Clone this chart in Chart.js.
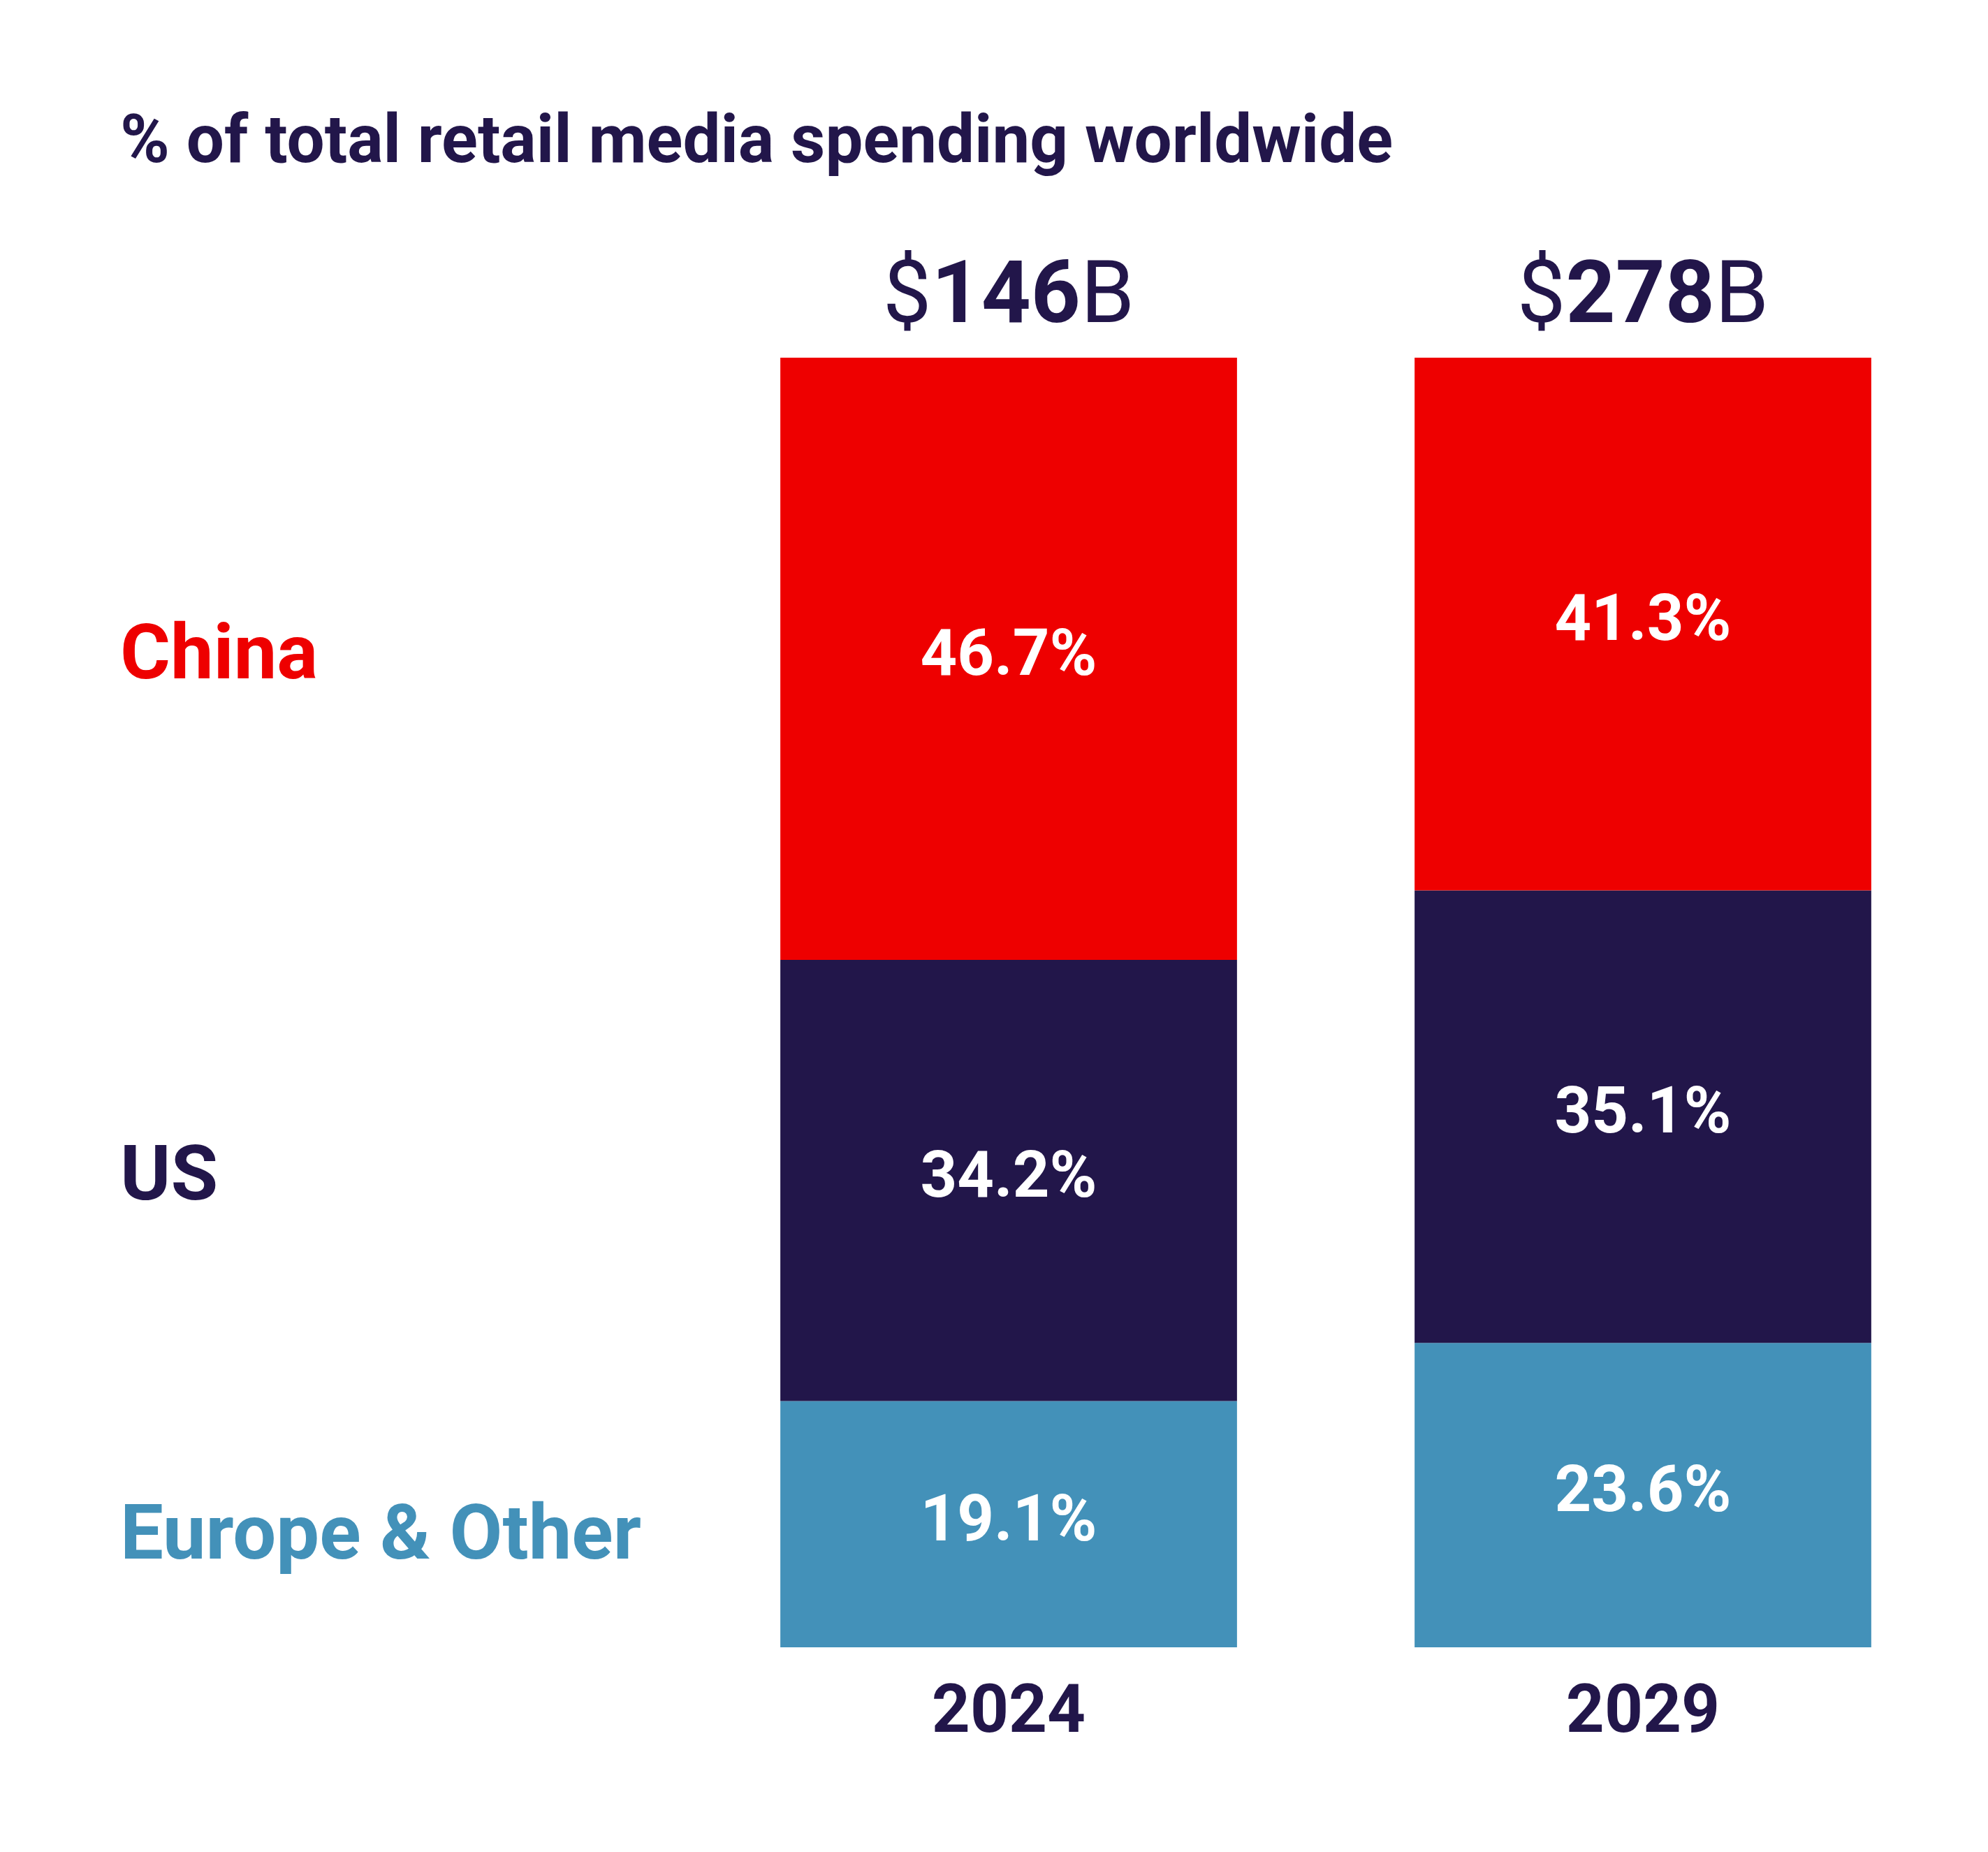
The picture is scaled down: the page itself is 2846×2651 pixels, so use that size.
<!DOCTYPE html>
<html>
<head>
<meta charset="utf-8">
<script src="https://cdn.jsdelivr.net/npm/chart.js@4"></script>
<style>
  html, body { margin: 0; padding: 0; background: #fff; }
  canvas { display: block; }
</style>
</head>
<body>
<canvas id="chart" width="2846" height="2651"></canvas>
<script>
// données
const years = ["2024", "2029"];
const totals = ["146", "278"];
const regions = ["China", "US", "Europe & Other"];
const chinaValues = [46.7, 41.3];
const usValues = [34.2, 35.1];
const europeValues = [19.1, 23.6];
const colors = ["#ee0000", "#22164a", "#4391b9"];
const navy = "#22164a";
const FONT = "Roboto, 'Noto Sans', sans-serif";

// textes autour du graphique
const labelsPlugin = {
  id: "labels",
  afterDatasetsDraw(chart) {
    const ctx = chart.ctx;
    const x = chart.scales.x;
    ctx.save();
    ctx.textBaseline = "middle";

    // titre
    ctx.fillStyle = navy;
    ctx.textAlign = "left";
    ctx.font = "bold 96px " + FONT;
    ctx.fillText("% of total retail media spending worldwide", 172, 208);

    // valeurs dans les barres
    ctx.textAlign = "center";
    ctx.font = "bold 92px " + FONT;
    ctx.fillStyle = "#fff";
    chart.data.datasets.forEach((ds, i) => {
      chart.getDatasetMeta(i).data.forEach((bar, j) => {
        ctx.fillText(ds.data[j].toFixed(1) + "%", bar.x, (bar.y + bar.base) / 2);
      });
    });

    // noms des régions, alignés sur la première barre
    ctx.textAlign = "left";
    ctx.font = "bold 110px " + FONT;
    regions.forEach((r, i) => {
      const bar = chart.getDatasetMeta(i).data[0];
      let y = (bar.y + bar.base) / 2;
      if (i === 2) y += 22;
      ctx.fillStyle = colors[i];
      ctx.fillText(r, 172, y);
    });

    // années et totaux
    years.forEach((yr, j) => {
      const cx = x.getPixelForValue(j);
      ctx.fillStyle = navy;
      ctx.textAlign = "center";
      ctx.font = "bold 96px " + FONT;
      ctx.fillText(yr, cx, 2455);

      const big = "bold 124px " + FONT;
      const small = "124px " + FONT;
      ctx.font = small;
      const w1 = ctx.measureText("$").width;
      const w3 = ctx.measureText("B").width;
      ctx.font = big;
      const w2 = ctx.measureText(totals[j]).width;
      let sx = cx - (w1 + w2 + w3) / 2;
      ctx.textAlign = "left";
      ctx.font = small;
      ctx.fillText("$", sx, 430);
      ctx.font = big;
      ctx.fillText(totals[j], sx + w1, 430);
      ctx.font = small;
      ctx.fillText("B", sx + w1 + w2, 430);
    });
    ctx.restore();
  }
};

new Chart(document.getElementById("chart"), {
  type: "bar",
  data: {
    labels: years,
    datasets: [
      { label: regions[0], data: chinaValues, backgroundColor: colors[0] },
      { label: regions[1], data: usValues, backgroundColor: colors[1] },
      { label: regions[2], data: europeValues, backgroundColor: colors[2] }
    ].reverse().reverse()
  },
  options: {
    responsive: false,
    devicePixelRatio: 1,
    animation: false,
    layout: { padding: { top: 512, bottom: 293, left: 990, right: 40 } },
    datasets: { bar: { barPercentage: 1, categoryPercentage: 0.72, borderWidth: 0 } },
    plugins: { legend: { display: false }, tooltip: { enabled: false } },
    scales: {
      x: { stacked: true, display: false },
      y: { stacked: true, display: false, min: 0, max: 100, reverse: true }
    }
  },
  plugins: [labelsPlugin]
});
</script>
</body>
</html>
